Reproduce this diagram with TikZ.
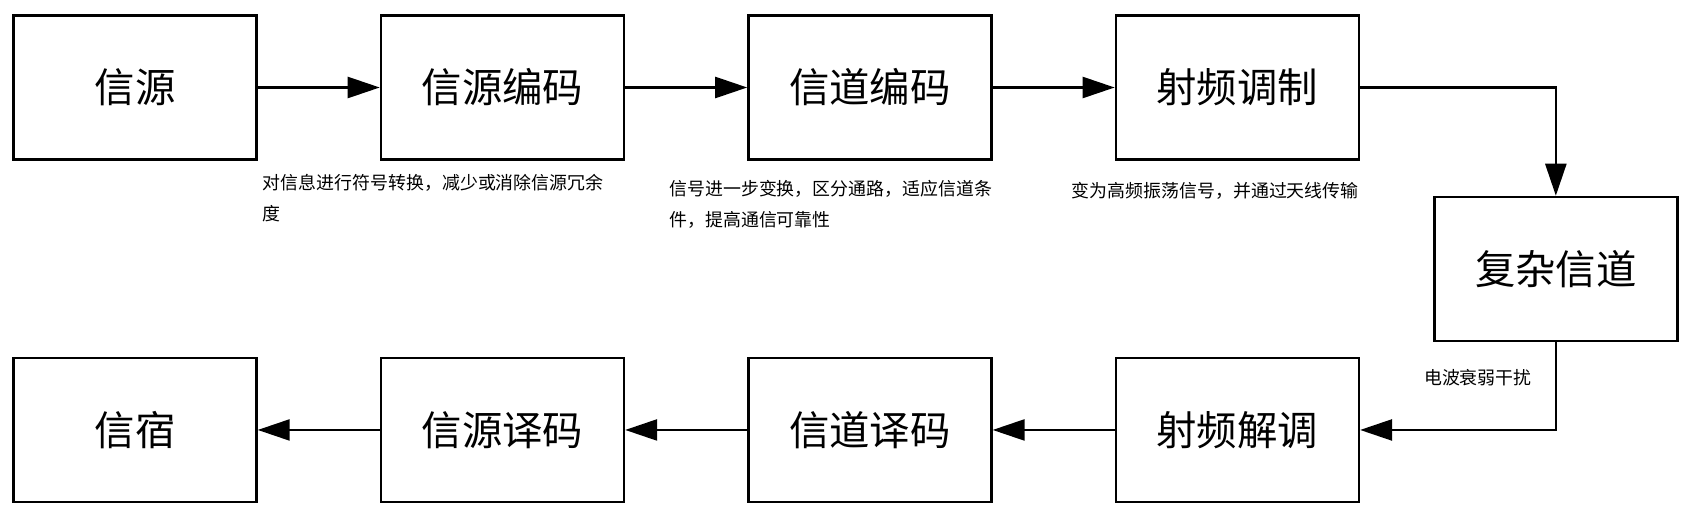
\documentclass[tikz,border=0pt]{standalone}
\usepackage{fontspec}
\setmainfont{Noto Sans CJK SC}
\usetikzlibrary{arrows.meta,positioning}

\begin{document}
\begin{tikzpicture}[->,>={Triangle[length=0.64cm,width=0.42cm]}, node distance=2.44cm,
line width=1.4pt,
	block/.style={draw, rectangle, minimum width=4.86cm, minimum height=2.88cm,
      font=\fontsize{23pt}{27pt}\selectfont},
    note/.style={align=left, inner sep=0pt, font=\fontsize{10.2pt}{17.6pt}\selectfont}
    ]
\useasboundingbox (0,0) rectangle (33.74,-10.34);
% top row
\node[block] (0) at (2.70,-1.75) {信源};
\node[block] (1) [right=of 0] {信源编码};
\node[block] (2) [right=of 1] {信道编码};
\node[block] (3) [right=of 2] {射频调制};
\node[block] (4) [below right=0.70cm and 1.46cm of 3] {复杂信道};

% bottom row
\node[block] (5) [below=3.92cm of 3] {射频解调};
\node[block] (6) [left=of 5] {信道译码};
\node[block] (7) [left=of 6] {信源译码};
\node[block] (8) [left=of 7] {信宿};

% notes
\node[note, below right=0.24cm and 0.08cm of 0.south east] {对信息进行符号转换，减少或消除信源冗余\\度};
\node[note, below right=0.36cm and 0.86cm of 1.south east] {信号进一步变换，区分通路，适应信道条\\件，提高通信可靠性};
\node[note, below right=0.40cm and 1.56cm of 2.south east] {变为高频振荡信号，并通过天线传输};
\node[note, below left=0.52cm and 0.46cm of 4.south] {电波衰弱干扰};

\path
(0) edge (1)
(1) edge (2)
(2) edge (3)
(5) edge (6)
(6) edge (7)
(7) edge (8)
;
\draw (3) -| (4);
\draw (4) |- (5);
\end{tikzpicture}
\end{document}
